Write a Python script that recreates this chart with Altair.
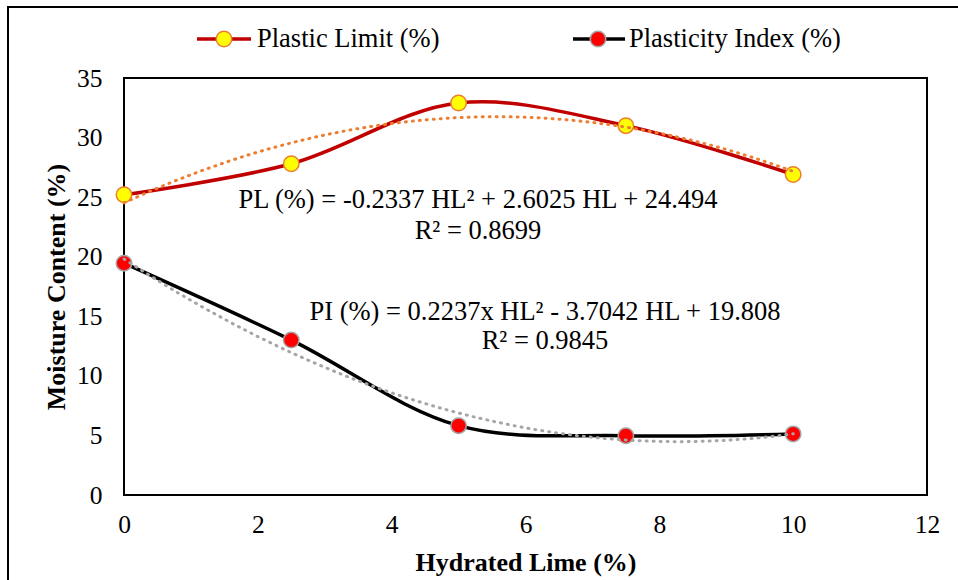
import altair as alt
import pandas as pd

# ---- data ----
hl = [0, 2.5, 5, 7.5, 10]
plastic_limit = [25.2, 27.8, 32.9, 31.0, 26.9]
plasticity_index = [19.46, 13.0, 5.82, 4.98, 5.13]
x_ticks = [0, 2, 4, 6, 8, 10, 12]
y_ticks = [0, 5, 10, 15, 20, 25, 30, 35]
legend_labels = ["Plastic Limit (%)", "Plasticity Index (%)"]
pl_equation = "PL (%) = -0.2337 HL² + 2.6025 HL + 24.494"
pl_r2 = "R² = 0.8699"
pi_equation = "PI (%) = 0.2237x HL² - 3.7042 HL + 19.808"
pi_r2 = "R² = 0.9845"
x_title = "Hydrated Lime (%)"
y_title = "Moisture Content (%)"

FONT = "Times New Roman, Liberation Serif, DejaVu Serif, serif"
W, H = 803, 417
PAD = {"left": 124, "top": 78, "right": 31, "bottom": 85}

pl_df = pd.DataFrame({"HL": hl, "MC": plastic_limit})
pi_df = pd.DataFrame({"HL": hl, "MC": plasticity_index})
one = pd.DataFrame({"k": [0]})

x_enc = alt.X("HL:Q", scale=alt.Scale(domain=[0, 12], nice=False),
              axis=alt.Axis(values=x_ticks, format="d", title=x_title, labelPadding=17,
                            titlePadding=12, labelFlush=False))
y_enc = alt.Y("MC:Q", scale=alt.Scale(domain=[0, 35], nice=False),
              axis=alt.Axis(values=y_ticks, format="d", title=y_title, labelPadding=22,
                            titlePadding=7, labelFlush=False))

pl_line = alt.Chart(pl_df).mark_line(interpolate="catmull-rom", color="#C00000", strokeWidth=3.5).encode(x=x_enc, y=y_enc)
pi_line = alt.Chart(pi_df).mark_line(interpolate="catmull-rom", color="#000000", strokeWidth=3.5).encode(x="HL:Q", y="MC:Q")

pl_pts = alt.Chart(pl_df).mark_point(shape="circle", size=240, fill="#FFFF00", stroke="#ED7D31",
                                     strokeWidth=1.5, fillOpacity=1, opacity=1).encode(x="HL:Q", y="MC:Q")
pi_pts = alt.Chart(pi_df).mark_point(shape="circle", size=240, fill="#FF0000", stroke="#A5A5A5",
                                     strokeWidth=1.5, fillOpacity=1, opacity=1).encode(x="HL:Q", y="MC:Q")

pl_trend = alt.Chart(pl_df).transform_regression("HL", "MC", method="poly", order=2, extent=[0, 10]).mark_line(
    color="#ED7D31", strokeWidth=3, strokeDash=[1, 6], strokeCap="round").encode(x="HL:Q", y="MC:Q")
pi_trend = alt.Chart(pi_df).transform_regression("HL", "MC", method="poly", order=2, extent=[0, 10]).mark_line(
    color="#A5A5A5", strokeWidth=3, strokeDash=[1, 6], strokeCap="round").encode(x="HL:Q", y="MC:Q")

base = alt.Chart(one)

frame = base.mark_rect(fill="white", fillOpacity=0, stroke="black", strokeWidth=2).encode(
    x=alt.value(-116), x2=alt.value(845), y=alt.value(-71), y2=alt.value(520))


def txt(s, x, y, align="center", size=26.5):
    return base.mark_text(font=FONT, fontSize=size, color="black", align=align, baseline="middle").encode(
        x=alt.value(x), y=alt.value(y), text=alt.value(s))


annotations = [
    txt(pl_equation, 354, 122),
    txt(pl_r2, 354, 153),
    txt(pi_equation, 421, 234),
    txt(pi_r2, 421, 263),
]

leg_y = -39
legend = [
    base.mark_rule(color="#C00000", strokeWidth=3.5).encode(x=alt.value(73), x2=alt.value(127), y=alt.value(leg_y)),
    base.mark_point(shape="circle", size=240, fill="#FFFF00", stroke="#ED7D31", strokeWidth=1.5,
                    fillOpacity=1, opacity=1).encode(x=alt.value(100), y=alt.value(leg_y)),
    txt(legend_labels[0], 133, leg_y, align="left"),
    base.mark_rule(color="#000000", strokeWidth=3.5).encode(x=alt.value(449), x2=alt.value(501), y=alt.value(leg_y)),
    base.mark_point(shape="circle", size=240, fill="#FF0000", stroke="#A5A5A5", strokeWidth=1.5,
                    fillOpacity=1, opacity=1).encode(x=alt.value(474), y=alt.value(leg_y)),
    txt(legend_labels[1], 505, leg_y, align="left"),
]

chart = alt.layer(
    frame, pl_line, pi_line, pl_pts, pi_pts, pl_trend, pi_trend, *annotations, *legend
).properties(
    width=W, height=H, padding=PAD, autosize=alt.AutoSizeParams(type="none"), background="white"
).configure_view(
    stroke="black", strokeWidth=2
).configure_axis(
    grid=False, ticks=False, domain=False,
    labelFont=FONT, labelFontSize=25.5, labelColor="black",
    titleFont=FONT, titleFontSize=26, titleFontWeight="bold", titleColor="black",
)

chart.save("out.html", embed_options={"renderer": "svg", "actions": False})
